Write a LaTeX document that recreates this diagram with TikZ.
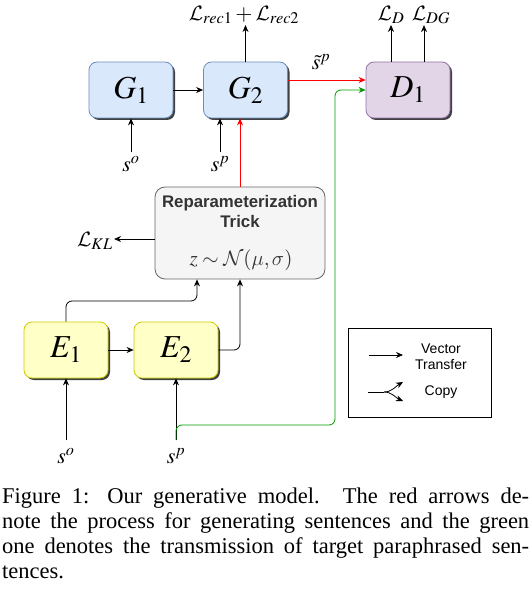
\documentclass[tikz,border=0pt]{standalone}
\usepackage{mathptmx}
\DeclareMathAlphabet{\mathcal}{OMS}{cmsy}{m}{n}
\DeclareSymbolFont{cmletters}{OML}{cmm}{m}{it}
\DeclareMathSymbol{\mu}{\mathord}{cmletters}{"16}
\DeclareMathSymbol{\sigma}{\mathord}{cmletters}{"1B}
\usepackage[no-math]{fontspec}
\setmainfont{Liberation Serif}
\newfontfamily\arialf{Liberation Sans}
\usetikzlibrary{arrows.meta,shadows,calc}
\definecolor{bfill}{HTML}{DAE8FC}
\definecolor{bdraw}{HTML}{6C8EBF}
\definecolor{yfill}{HTML}{FFFFC8}
\definecolor{ydraw}{HTML}{CCCC00}
\definecolor{pfill}{HTML}{E1D5E7}
\definecolor{pdraw}{HTML}{9673A6}
\definecolor{rfill}{HTML}{F5F5F5}
\definecolor{rdraw}{HTML}{666666}
\definecolor{rtext}{HTML}{333333}
\definecolor{gline}{HTML}{009900}
\begin{document}
\begin{tikzpicture}[x=1pt,y=-1pt,
  box/.style={rounded corners=8pt, minimum width=84pt, minimum height=56pt, line width=0.8pt,
    drop shadow={shadow xshift=2pt,shadow yshift=-2pt,fill=black!75,opacity=1},
    font=\fontsize{32}{36}\selectfont},
  gbox/.style={box, fill=bfill, draw=bdraw},
  ebox/.style={box, fill=yfill, draw=ydraw},
  dbox/.style={box, fill=pfill, draw=pdraw},
  mlab/.style={inner sep=1pt, font=\fontsize{22}{26}\selectfont},
  arr/.style={-{Stealth[length=7pt,width=6pt]}, line width=0.8pt},
  legtext/.style={font=\arialf\fontsize{14}{16}\selectfont, align=center},
]
\useasboundingbox (0,0) rectangle (532,599);
% nodes
\node[gbox] (G1) at (131,90) {$G_1$};
\node[gbox] (G2) at (245.5,90) {$G_2$};
\node[dbox] (D1) at (408,90) {$D_1$};
\node[ebox] (E1) at (66,350) {$E_1$};
\node[ebox] (E2) at (176,350) {$E_2$};
\node[rounded corners=10pt, fill=rfill, draw=rdraw, line width=0.8pt,
      minimum width=170pt, minimum height=92pt] (rep) at (240,233) {};
\node[text=rtext, font=\arialf\bfseries\fontsize{16.8}{20}\selectfont, align=center] (reptxt) at (240,211) {Reparameterization\\Trick};
\node[text=rtext, font=\fontsize{21}{24}\selectfont] (reptz) at (241,260) {$z\sim\mathcal{N}(\mu,\sigma)$};
% labels
\node[mlab] (Lrec) at (244,15) {$\mathcal{L}_{rec1}+\mathcal{L}_{rec2}$};
\node[mlab] (LD) at (391,15) {$\mathcal{L}_{D}$};
\node[mlab] (LDG) at (431,15) {$\mathcal{L}_{DG}$};
\node[mlab] (LKL) at (95,241) {$\mathcal{L}_{KL}$};
\node[mlab] (st) at (321,62) {$\tilde{s}^p$};
\node[mlab] (so1) at (131,164) {$s^o$};
\node[mlab] (sp1) at (220,164) {$s^p$};
\node[mlab] (so2) at (66,456) {$s^o$};
\node[mlab] (sp2) at (176,456) {$s^p$};
\coordinate (a1) at (131,152);
\coordinate (a2) at (220,152);
\coordinate (a3) at (66,440);
\coordinate (a4) at (176,440);
\coordinate (k0) at ([yshift=-6pt]rep.west);
% connectors
\draw[arr] (G1) -- (G2);
\draw[arr] (E1) -- (E2);
\draw[arr] (a1) -- (G1.south);
\draw[arr] (a2) -- (a2 |- G2.south);
\draw[arr] (a3) -- (E1.south);
\draw[arr] (a4) -- (E2.south);
\draw[arr] (G2.north) -- (G2.north |- Lrec.south);
\draw[arr] ([xshift=-17pt]D1.north) -- ([xshift=-17pt]D1.north |- LD.south);
\draw[arr] ([xshift=16pt]D1.north) -- ([xshift=16pt]D1.north |- LDG.south);
\draw[arr] (k0) -- (k0 -| LKL.east);
\draw[arr, rounded corners=6pt] (E1.north) -- (66,301) -| ([xshift=-43pt]rep.south);
\draw[arr, rounded corners=6pt] (E2.east) -| (rep.south);
\draw[arr, red] (rep.north) -- (rep.north |- G2.south);
\draw[arr, red] ([yshift=10pt]G2.east) -- ([yshift=10pt]D1.west);
\draw[arr, gline, rounded corners=6pt] (a4) -- (176,425) -- (335,425) -- (335,90) -- (D1.west);
% legend
\node[draw, line width=0.8pt, minimum width=143pt, minimum height=89pt] (leg) at (419.5,372.5) {};
\node[legtext] (lvt) at (441,357) {Vector\\Transfer};
\node[legtext] (lcp) at (441,392) {Copy};
\coordinate (l1) at (369,355);
\coordinate (l2) at (403,355);
\draw[arr] (l1) -- (l2);
\coordinate (c0) at (368,392);
\coordinate (c1) at (384,392);
\coordinate (c2) at (403,382);
\coordinate (c3) at (403,401);
\draw[line width=0.8pt] (c0) -- (c1);
\draw[arr] (c1) .. controls (392,392) and (396,386) .. (c2);
\draw[arr] (c1) .. controls (392,392) and (396,398) .. (c3);
% caption
\node[anchor=north west, inner sep=0pt, text width=527pt, align=justify,
      font=\fontsize{22.5}{25}\selectfont] (cap) at (2,488) {Figure 1: Our generative model. The red arrows de-\linebreak note the process for generating sentences and the green\linebreak one denotes the transmission of target paraphrased sen-\linebreak tences.};
\end{tikzpicture}
\end{document}
